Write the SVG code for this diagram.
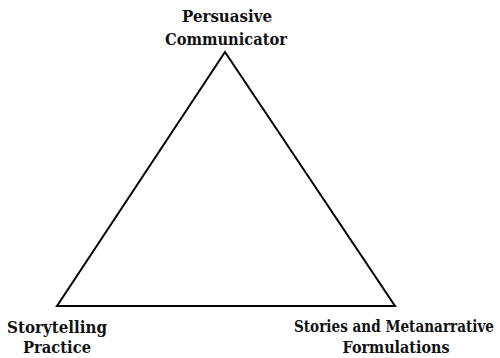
<svg xmlns="http://www.w3.org/2000/svg" width="500" height="358" viewBox="0 0 500 358">
  <style>
    .lbl { font-family: "DejaVu Serif", "Liberation Serif", serif; font-weight: bold; font-size: 17px; fill: #111; text-anchor: middle; }
    .edge { fill: none; stroke: #000; stroke-width: 2; stroke-linejoin: miter; }
  </style>
  <rect width="500" height="358" fill="#fff"/>
  <g id="connectors">
    <polygon class="edge" points="225,52 57,306 395,306"/>
  </g>
  <g id="node-communicator">
    <text class="lbl" x="227" y="22" textLength="90" lengthAdjust="spacingAndGlyphs">Persuasive</text>
    <text class="lbl" x="226" y="45" textLength="122" lengthAdjust="spacingAndGlyphs">Communicator</text>
  </g>
  <g id="node-practice">
    <text class="lbl" x="57" y="333" textLength="100" lengthAdjust="spacingAndGlyphs">Storytelling</text>
    <text class="lbl" x="57" y="353" textLength="68" lengthAdjust="spacingAndGlyphs">Practice</text>
  </g>
  <g id="node-stories">
    <!-- long label condensed horizontally so it stays inside the right edge -->
    <text class="lbl" transform="translate(394,332) scale(0.8,1)" x="0" y="0" textLength="250" lengthAdjust="spacingAndGlyphs">Stories and Metanarrative</text>
    <text class="lbl" x="396" y="353" textLength="107" lengthAdjust="spacingAndGlyphs">Formulations</text>
  </g>
</svg>
